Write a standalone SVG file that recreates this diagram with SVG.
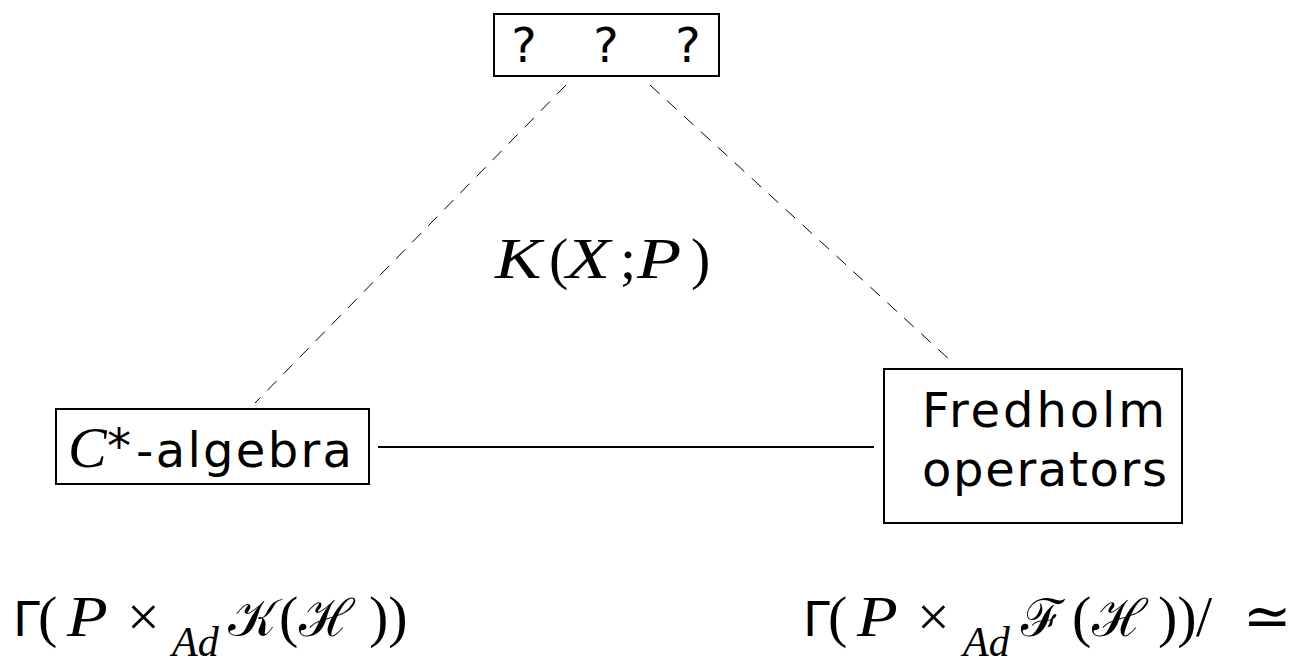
<svg xmlns="http://www.w3.org/2000/svg" width="1298" height="663" viewBox="0 0 1298 663">
<style>
.box{fill:#fff;stroke:#000;stroke-width:2}
.sans{font-family:"DejaVu Sans","Liberation Sans",sans-serif;font-size:48px;fill:#000}
.math{font-family:"Liberation Serif","DejaVu Serif",serif;font-size:58px;fill:#000}
.it{font-style:italic}
.sub{font-size:42px}
.cal{font-size:52px}
.dash{stroke:#000;stroke-width:1;stroke-dasharray:13,10;fill:none}
.solid{stroke:#000;stroke-width:1.8;fill:none}
</style>
<rect width="1298" height="663" fill="#fff"/>
<g id="connectors">
<line class="dash" x1="566" y1="85" x2="255" y2="403"/>
<line class="dash" x1="650" y1="85" x2="952" y2="362"/>
<line class="solid" x1="378" y1="447" x2="874" y2="447"/>
</g>
<g id="top">
<rect class="box" x="494" y="14" width="225" height="62" stroke-width="2.6"/>
<text class="sans" x="524" y="62" text-anchor="middle">?</text>
<text class="sans" x="606" y="62" text-anchor="middle">?</text>
<text class="sans" x="688" y="62" text-anchor="middle">?</text>
</g>
<g id="center-label">
<text class="math it" transform="translate(495,278) scale(1.2,1)">K</text>
<text class="math" x="549" y="278">(</text>
<text class="math it" transform="translate(566,278) scale(1.25,1)">X</text>
<text class="math" x="620" y="278">;</text>
<text class="math it" transform="translate(637,278) scale(1.25,1)">P</text>
<text class="math" x="691" y="278">)</text>
</g>
<g id="cstar">
<rect class="box" x="56" y="409" width="313" height="75"/>
<text class="math it" x="68" y="467" font-size="53">C</text>
<text class="sans" x="107" y="463" font-size="40">*</text>
<text class="sans" x="136" y="467" textLength="216" lengthAdjust="spacing">-algebra</text>
</g>
<g id="fredholm">
<rect class="box" x="884" y="369" width="298" height="154"/>
<text class="sans" x="922" y="427" textLength="243" lengthAdjust="spacing">Fredholm</text>
<text class="sans" x="922" y="486" textLength="245" lengthAdjust="spacing">operators</text>
</g>
<g id="left-formula">
<text class="sans" x="13" y="636">Γ</text>
<text class="math" x="38" y="636">(</text>
<text class="math it" transform="translate(67,636) scale(1.15,1)">P</text>
<text class="math" x="127" y="636" font-size="62">×</text>
<text class="math it sub" x="172" y="656">Ad</text>
<text class="math cal" x="228" y="636">𝒦</text>
<text class="math" x="279" y="636">(</text>
<text class="math cal" x="299" y="636">ℋ</text>
<text class="math" x="369" y="636">))</text>
</g>
<g id="right-formula">
<text class="sans" x="803" y="636">Γ</text>
<text class="math" x="828" y="636">(</text>
<text class="math it" transform="translate(857,636) scale(1.15,1)">P</text>
<text class="math" x="917" y="636" font-size="62">×</text>
<text class="math it sub" x="963" y="656">Ad</text>
<text class="math cal" x="1021" y="636">ℱ</text>
<text class="math" x="1072" y="636">(</text>
<text class="math cal" x="1092" y="636">ℋ</text>
<text class="math" x="1158" y="636">))</text>
<text class="math" x="1196" y="636">/</text>
<text class="math" x="1243" y="636">≃</text>
</g>
</svg>
